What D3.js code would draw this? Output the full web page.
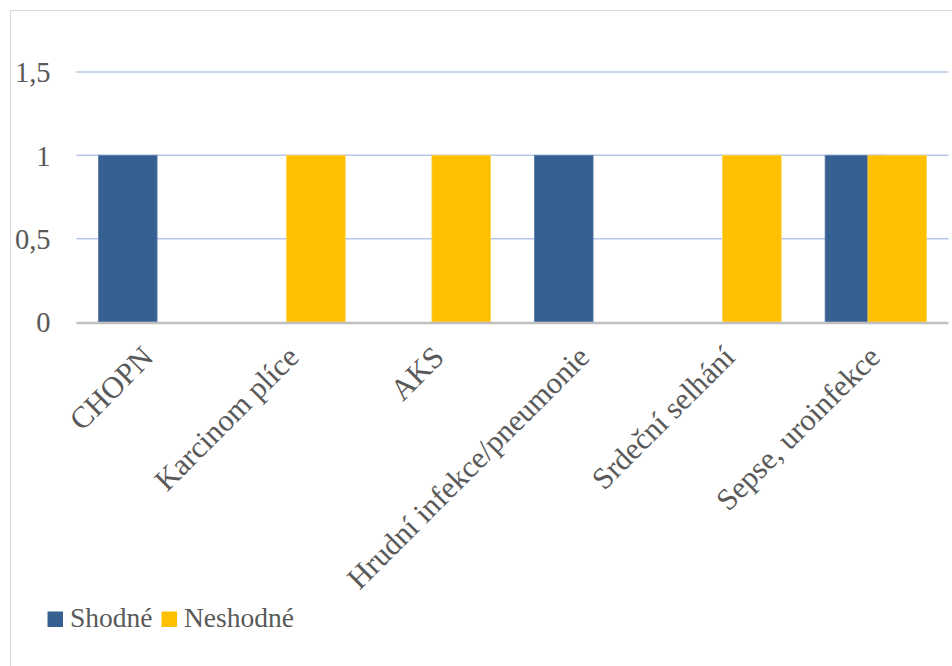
<!DOCTYPE html>
<html>
<head>
<meta charset="utf-8">
<script src="https://cdn.jsdelivr.net/npm/d3@7"></script>
<style>
  html, body { margin: 0; padding: 0; background: #ffffff; }
  svg { display: block; }
</style>
</head>
<body>
<svg id="chart" width="952" height="666"></svg>
<script>
// Diagnoses and counts of matching / non-matching cases
const categories = ["CHOPN", "Karcinom plíce", "AKS", "Hrudní infekce/pneumonie", "Srdeční selhání", "Sepse, uroinfekce"];
const seriesNames = ["Shodné", "Neshodné"];
const shodne   = [1, 0, 0, 1, 0, 1];
const neshodne = [0, 1, 1, 0, 1, 1];
const yTicks = [0, 0.5, 1, 1.5];
const colors = ["#366092", "#FFC000"];

const seriesValues = [shodne, neshodne];
const FONT = "'Liberation Serif', Tinos, 'Times New Roman', Times, 'DejaVu Serif', 'Noto Serif', serif";
const TEXT_COLOR = "#595959";

const svg = d3.select("#chart");
const W = 952, H = 666;

// chart area frame
svg.append("rect")
  .attr("x", 10.5).attr("y", 10.5)
  .attr("width", W + 20).attr("height", H + 20)
  .attr("fill", "#ffffff")
  .attr("stroke", "#d9d9d9").attr("stroke-width", 1);

const plot = { left: 76.5, right: 948.5, top: 72, bottom: 322 };

const y = d3.scaleLinear().domain([0, 1.5]).range([plot.bottom, plot.top]);

const x0 = d3.scaleBand()
  .domain(categories)
  .range([plot.left, plot.right])
  .paddingInner(0.302)
  .paddingOuter(0.151);

// overlapping clustered bars
const overlap = 0.27;
const clusterW = x0.bandwidth();
const barW = clusterW / (2 - overlap);
const barOffset = barW * (1 - overlap);

// gridlines
svg.append("g")
  .selectAll("line")
  .data(yTicks.filter(d => d > 0))
  .join("line")
  .attr("x1", plot.left).attr("x2", plot.right)
  .attr("y1", d => y(d)).attr("y2", d => y(d))
  .attr("stroke", "#b4c7e7").attr("stroke-width", 1.5);

// y axis labels
const fmt = d => String(d).replace(".", ",");
const yAxis = d3.axisLeft(y).tickValues(yTicks).tickFormat(fmt).tickSize(0).tickPadding(0);
const yg = svg.append("g").attr("transform", `translate(50.5,0)`).call(yAxis)
  .attr("font-family", FONT);
yg.select(".domain").remove();
yg.selectAll("text")
  .attr("font-size", 28.5)
  .attr("dy", "0.35em")
  .attr("font-family", FONT)
  .attr("fill", TEXT_COLOR);

// bars
seriesValues.forEach((vals, si) => {
  svg.append("g")
    .selectAll("rect")
    .data(vals.map((v, i) => ({ cat: categories[i], v })))
    .join("rect")
    .attr("x", d => x0(d.cat) + si * barOffset)
    .attr("y", d => y(d.v))
    .attr("width", barW)
    .attr("height", d => y(0) - y(d.v))
    .attr("fill", colors[si])
    .attr("stroke", d => d.v > 0 ? (si === 0 ? "#5a7ca6" : "#ffd24d") : "none")
    .attr("stroke-width", 0.8);
});

// category axis line
svg.append("line")
  .attr("x1", plot.left).attr("x2", plot.right)
  .attr("y1", y(0) + 1).attr("y2", y(0) + 1)
  .attr("stroke", "#bfbfbf").attr("stroke-width", 2.3);

// rotated category labels
svg.append("g")
  .selectAll("text")
  .data(categories)
  .join("text")
  .attr("transform", d => `translate(${x0(d) + clusterW / 2 + 6},359) rotate(-45)`)
  .attr("text-anchor", "end")
  .attr("font-family", FONT)
  .attr("font-size", 30.5)
  .attr("fill", TEXT_COLOR)
  .text(d => d);

// legend
const legend = svg.append("g").attr("transform", "translate(47.5,611.5)");
const legendPos = [0, 114];
seriesNames.forEach((name, i) => {
  const g = legend.append("g").attr("transform", `translate(${legendPos[i]},0)`);
  g.append("rect").attr("width", 15.5).attr("height", 15.5).attr("fill", colors[i]);
  g.append("text").attr("x", 22.5).attr("y", 15.5)
    .attr("font-family", FONT).attr("font-size", 27.5).attr("fill", TEXT_COLOR)
    .text(name);
});
</script>
</body>
</html>
